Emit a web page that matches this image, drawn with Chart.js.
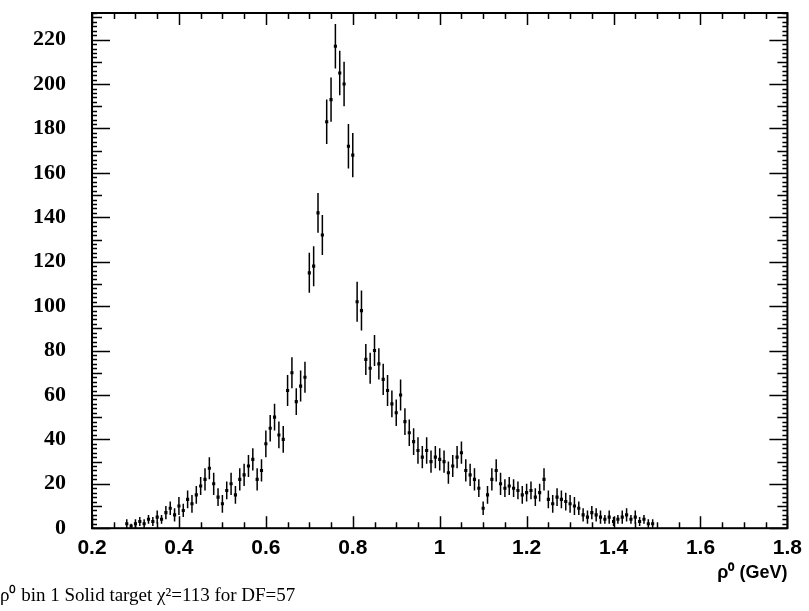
<!DOCTYPE html>
<html><head><meta charset="utf-8">
<script src="https://cdn.jsdelivr.net/npm/chart.js@4"></script>
<style>html,body{margin:0;padding:0;background:#fff}canvas{display:block}</style>
</head>
<body>
<canvas id="c" width="809" height="611"></canvas>
<script>
// ---- data ----
const massGeV = [
0.28,0.29,0.30,0.31,0.32,0.33,0.34,0.35,0.36,0.37,
0.38,0.39,0.40,0.41,0.42,0.43,0.44,0.45,0.46,0.47,
0.48,0.49,0.50,0.51,0.52,0.53,0.54,0.55,0.56,0.57,
0.58,0.59,0.60,0.61,0.62,0.63,0.64,0.65,0.66,0.67,
0.68,0.69,0.70,0.71,0.72,0.73,0.74,0.75,0.76,0.77,
0.78,0.79,0.80,0.81,0.82,0.83,0.84,0.85,0.86,0.87,
0.88,0.89,0.90,0.91,0.92,0.93,0.94,0.95,0.96,0.97,
0.98,0.99,1.00,1.01,1.02,1.03,1.04,1.05,1.06,1.07,
1.08,1.09,1.10,1.11,1.12,1.13,1.14,1.15,1.16,1.17,
1.18,1.19,1.20,1.21,1.22,1.23,1.24,1.25,1.26,1.27,
1.28,1.29,1.30,1.31,1.32,1.33,1.34,1.35,1.36,1.37,
1.38,1.39,1.40,1.41,1.42,1.43,1.44,1.45,1.46,1.47,
1.48,1.49];
const counts = [
2,1,2,3,2,4,3,5,4,7,
9,6,10,8,13,11,15,19,22,27,
20,14,11,17,20,15,22,24,28,31,
22,26,38,45,50,42,40,62,70,57,
64,68,115,118,142,132,183,193,217,205,
200,172,168,102,98,76,72,80,74,67,
62,56,52,60,48,43,39,35,32,35,
30,32,31,30,25,28,32,34,26,24,
22,18,9,15,22,26,20,18,19,18,
17,15,16,17,14,16,22,13,11,14,
13,12,11,10,9,6,5,7,6,5,
4,5,3,4,5,6,4,5,3,4,
2,2];
const errors = [
2,1,2,2,2,2,2,3,2,3,
3,3,4,3,4,4,4,4,5,5,
5,4,4,4,5,4,5,5,5,5,
5,5,6,6,6,6,6,7,7,6,
7,7,9,9,9,9,10,10,10,10,
10,10,10,9,9,7,7,7,7,7,
7,6,6,7,6,6,6,6,5,6,
5,5,5,5,5,5,5,5,5,5,
5,4,3,4,5,5,5,4,4,4,
4,4,4,4,4,4,5,4,4,4,
4,4,4,4,3,3,3,3,3,3,
2,3,2,2,3,3,2,3,2,2,
2,2];
const xTickValues = [0.2,0.4,0.6,0.8,1.0,1.2,1.4,1.6,1.8];
const yTickValues = [0,20,40,60,80,100,120,140,160,180,200,220];
const xAxisTitle = 'ρ⁰ (GeV)';
const captionText = 'ρ⁰ bin 1 Solid target χ²=113 for DF=57';

const points = massGeV.map((m, i) => ({x: m, y: counts[i]}));

const errorBars = {
  id: 'errorBars',
  afterDatasetsDraw(chart) {
    const {ctx, scales: {x, y}} = chart;
    ctx.save();
    ctx.strokeStyle = '#000';
    ctx.lineWidth = 1.5;
    ctx.beginPath();
    massGeV.forEach((m, i) => {
      const px = x.getPixelForValue(m);
      ctx.moveTo(px, y.getPixelForValue(counts[i] - errors[i]));
      ctx.lineTo(px, y.getPixelForValue(counts[i] + errors[i]));
    });
    ctx.stroke();
    ctx.restore();
  }
};

const frameTicks = {
  id: 'frameTicks',
  afterDraw(chart) {
    const {ctx, chartArea: a, scales: {x, y}} = chart;
    ctx.save();
    ctx.strokeStyle = '#000';
    ctx.lineWidth = 1.5;
    ctx.beginPath();
    for (let k = 0; k * 2 <= y.max; k++) {
      const v = k * 2;
      const len = (v % 20 === 0) ? 18 : (v % 10 === 0 ? 10 : 5);
      const py = Math.round(y.getPixelForValue(v)) + 0.5;
      ctx.moveTo(a.left, py); ctx.lineTo(a.left + len, py);
      ctx.moveTo(a.right, py); ctx.lineTo(a.right - len, py);
    }
    for (let k = 0; k <= 32; k++) {
      const v = x.min + k * 0.05;
      const len = (k % 4 === 0) ? 12 : 6;
      const px = Math.round(x.getPixelForValue(v)) + 0.5;
      ctx.moveTo(px, a.bottom); ctx.lineTo(px, a.bottom - len);
      ctx.moveTo(px, a.top); ctx.lineTo(px, a.top + len);
    }
    ctx.stroke();
    ctx.lineWidth = 2;
    ctx.strokeRect(a.left, a.top, a.right - a.left, a.bottom - a.top);
    ctx.restore();
  }
};

new Chart(document.getElementById('c'), {
  type: 'scatter',
  data: {
    datasets: [{
      data: points,
      pointStyle: 'rect',
      pointRadius: 2.2,
      backgroundColor: '#000',
      borderColor: '#000',
      borderWidth: 0
    }]
  },
  options: {
    responsive: false,
    animation: false,
    events: [],
    layout: {padding: {left: 0, right: 19, top: 13, bottom: 0}},
    plugins: {
      legend: {display: false},
      tooltip: {enabled: false},
      title: {
        display: true,
        text: captionText,
        position: 'bottom',
        align: 'start',
        color: '#000',
        font: {family: 'Liberation Serif', size: 19, weight: 'normal'},
        padding: {top: 0, bottom: 4}
      }
    },
    scales: {
      x: {
        type: 'linear',
        min: 0.2, max: 1.8,
        afterBuildTicks: s => { s.ticks = xTickValues.map(v => ({value: v})); },
        afterFit: s => { s.height = 56; },
        grid: {display: false, drawTicks: false},
        border: {display: false},
        ticks: {
          color: '#000',
          padding: 7,
          maxRotation: 0,
          autoSkip: false,
          font: {family: 'Liberation Sans', size: 21, weight: 'bold'},
          callback: v => String(Number(v.toFixed(1)))
        },
        title: {
          display: true,
          text: xAxisTitle,
          align: 'end',
          color: '#000',
          font: {family: 'Liberation Sans', size: 18, weight: 'bold'},
          padding: {top: 0, bottom: 0}
        }
      },
      y: {
        min: 0, max: 232,
        afterBuildTicks: s => { s.ticks = yTickValues.map(v => ({value: v})); },
        afterFit: s => { s.width = 92; s.paddingTop = 0; s.paddingBottom = 0; },
        grid: {display: false, drawTicks: false},
        border: {display: false},
        ticks: {
          color: '#000',
          padding: 26,
          autoSkip: false,
          font: {family: 'Liberation Serif', size: 22, weight: 'bold'}
        }
      }
    }
  },
  plugins: [errorBars, frameTicks]
});
</script>
</body></html>
